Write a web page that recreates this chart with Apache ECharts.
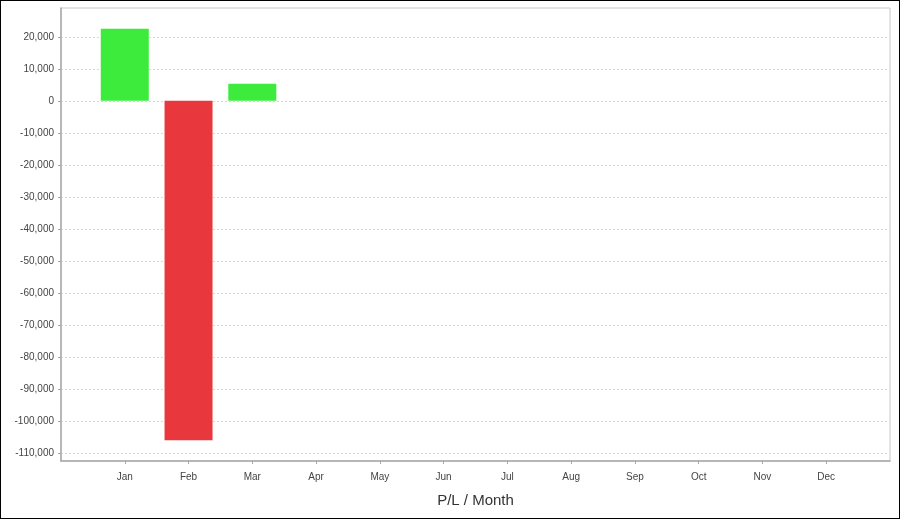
<!DOCTYPE html>
<html>
<head>
<meta charset="utf-8">
<script src="https://cdn.jsdelivr.net/npm/echarts@6/dist/echarts.min.js"></script>
<style>
  html, body { margin: 0; padding: 0; background: #fff; }
  #wrap { width: 900px; height: 519px; box-sizing: border-box; border: 1px solid #000; background: #fff; }
  #chart { width: 898px; height: 517px; }
</style>
</head>
<body>
<div id="wrap"><div id="chart"></div></div>
<script>
const months = ['Jan', 'Feb', 'Mar', 'Apr', 'May', 'Jun', 'Jul', 'Aug', 'Sep', 'Oct', 'Nov', 'Dec'];
const plValues = [22500, -106000, 5300, null, null, null, null, null, null, null, null, null];
const yTicks = [-110000, -100000, -90000, -80000, -70000, -60000, -50000, -40000, -30000, -20000, -10000, 0, 10000, 20000];
const yMin = -112500;
const yMax = 29000;
const axisName = 'P/L / Month';

// pad the category axis with an empty slot on each side
const cats = [''].concat(months, ['']);
const vals = [null].concat(plValues, [null]);

const chart = echarts.init(document.getElementById('chart'), null, { renderer: 'canvas' });
chart.setOption({
  animation: false,
  backgroundColor: '#fff',
  textStyle: { fontFamily: 'Liberation Sans, Arial, sans-serif' },
  grid: {
    left: 60, right: 9, top: 7, bottom: 57,
    show: true, borderColor: '#c8c8c8', borderWidth: 1, backgroundColor: '#fff'
  },
  xAxis: {
    type: 'category',
    data: cats,
    boundaryGap: false,
    name: axisName,
    nameLocation: 'middle',
    nameGap: 32,
    nameTextStyle: { fontSize: 15, color: '#333', fontFamily: 'Liberation Sans, Arial, sans-serif' },
    axisLine: { onZero: false, lineStyle: { color: '#a8a8a8', width: 1.5 } },
    axisTick: {
      show: true, length: 3, lineStyle: { color: '#a8a8a8' },
      interval: function (idx) { return idx > 0 && idx < cats.length - 1; }
    },
    axisLabel: {
      fontSize: 10, color: '#444', margin: 11,
      interval: function (idx) { return idx > 0 && idx < cats.length - 1; }
    },
    splitLine: { show: false }
  },
  yAxis: {
    type: 'value',
    min: yMin,
    max: yMax,
    axisLine: { show: true, lineStyle: { color: '#a8a8a8', width: 1.5 } },
    axisTick: { show: true, length: 3, lineStyle: { color: '#a8a8a8' }, customValues: yTicks },
    axisLabel: {
      fontSize: 10, color: '#444', margin: 7,
      customValues: yTicks,
      formatter: function (v) { return v.toLocaleString('en-US'); }
    },
    splitLine: { show: true, lineStyle: { color: '#d8d8d8', type: [2, 2], width: 1 } }
  },
  series: [{
    type: 'bar',
    data: vals,
    barWidth: 48,
    itemStyle: {
      color: function (p) { return p.value >= 0 ? '#3deb3d' : '#e8373d'; }
    }
  }]
});
</script>
</body>
</html>
